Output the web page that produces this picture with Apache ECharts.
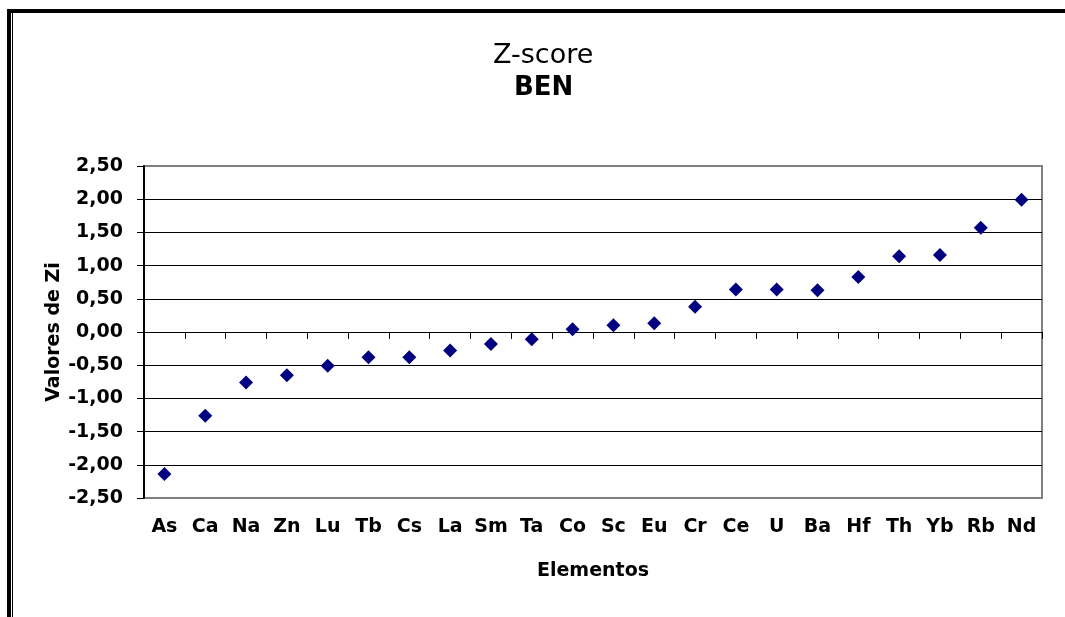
<!DOCTYPE html>
<html>
<head>
<meta charset="utf-8">
<script src="https://cdn.jsdelivr.net/npm/echarts@6/dist/echarts.min.js"></script>
<style>
  html, body { margin: 0; padding: 0; background: #fff; }
  #wrap { position: relative; width: 1065px; height: 617px; overflow: hidden; background: #fff; }
  #chart { position: absolute; left: 0; top: 0; width: 1065px; height: 617px; }
  /* marco exterior estilo Excel */
  .frame-top { position: absolute; left: 7px; top: 9px; right: 0; height: 4px; background: #000; }
  .frame-left { position: absolute; left: 7px; top: 9px; bottom: 0; width: 4px; background: #000; }
  .frame-left2 { position: absolute; left: 12px; top: 13px; bottom: 0; width: 1px; background: #000; }
</style>
</head>
<body>
<div id="wrap">
  <div id="chart"></div>
  <div class="frame-top"></div>
  <div class="frame-left"></div>
  <div class="frame-left2"></div>
</div>
<script>
// elementos (eje X)
var elementos = ["As", "Ca", "Na", "Zn", "Lu", "Tb", "Cs", "La", "Sm", "Ta", "Co",
  "Sc", "Eu", "Cr", "Ce", "U", "Ba", "Hf", "Th", "Yb", "Rb", "Nd"];
// valores de Zi
var valoresZi = [-2.14, -1.26, -0.76, -0.65, -0.51, -0.38, -0.38, -0.28, -0.18, -0.11, 0.04,
  0.10, 0.13, 0.38, 0.64, 0.64, 0.63, 0.83, 1.14, 1.16, 1.57, 1.99];
// escala del eje Y
var yMin = -2.5;
var yMax = 2.5;
var yStep = 0.5;

var fontFam = "DejaVu Sans";

var myChart = echarts.init(document.getElementById("chart"));

var option = {
  backgroundColor: "#fff",
  animation: false,
  title: [
    {
      text: "Z-score",
      left: 488,
      top: 37,
      textStyle: { fontFamily: fontFam, fontSize: 27, fontWeight: "normal", color: "#000" }
    },
    {
      text: "BEN",
      left: 509,
      top: 70,
      textStyle: { fontFamily: fontFam, fontSize: 26, fontWeight: "bold", color: "#000" }
    }
  ],
  grid: {
    left: 144,
    right: 23,
    top: 166,
    bottom: 119,
    show: true,
    borderColor: "#808080",
    borderWidth: 2,
    backgroundColor: "#fff"
  },
  xAxis: [
    {
      // etiquetas abajo
      type: "category",
      data: elementos,
      position: "bottom",
      boundaryGap: true,
      axisLine: { show: false, onZero: false },
      axisTick: { show: false },
      splitLine: { show: false },
      axisLabel: {
        interval: 0,
        margin: 20,
        color: "#000",
        fontFamily: fontFam,
        fontSize: 19,
        fontWeight: "bold"
      },
      name: "Elementos",
      nameLocation: "middle",
      nameGap: 64,
      nameTextStyle: { fontFamily: fontFam, fontSize: 19, fontWeight: "bold", color: "#000" }
    },
    {
      // linea del cero con marcas
      type: "category",
      data: elementos,
      position: "bottom",
      boundaryGap: true,
      axisLine: { show: true, onZero: true, lineStyle: { color: "#000", width: 1 } },
      axisTick: { show: true, length: 7, interval: 0, lineStyle: { color: "#000", width: 1 } },
      axisLabel: { show: false },
      splitLine: { show: false }
    }
  ],
  yAxis: {
    type: "value",
    min: yMin,
    max: yMax,
    interval: yStep,
    axisLine: { show: true, onZero: false, lineStyle: { color: "#000", width: 2 } },
    axisTick: { show: true, length: 7, lineStyle: { color: "#000", width: 1 } },
    splitLine: {
      show: true,
      showMinLine: false,
      showMaxLine: false,
      lineStyle: { color: "#000", width: 1 }
    },
    axisLabel: {
      margin: 21,
      color: "#000",
      fontFamily: fontFam,
      fontSize: 19,
      fontWeight: "bold",
      formatter: function(v) {
        return v.toFixed(2).replace(".", ",");
      }
    },
    name: "Valores de Zi",
    nameLocation: "middle",
    nameGap: 80,
    nameMoveOverlap: false,
    nameTextStyle: { fontFamily: fontFam, fontSize: 19, fontWeight: "bold", color: "#000" }
  },
  series: [
    {
      type: "scatter",
      xAxisIndex: 0,
      symbol: "diamond",
      symbolSize: 14,
      itemStyle: { color: "#000080", opacity: 1 },
      data: valoresZi,
      z: 5
    }
  ]
};
myChart.setOption(option);
</script>
</body>
</html>
